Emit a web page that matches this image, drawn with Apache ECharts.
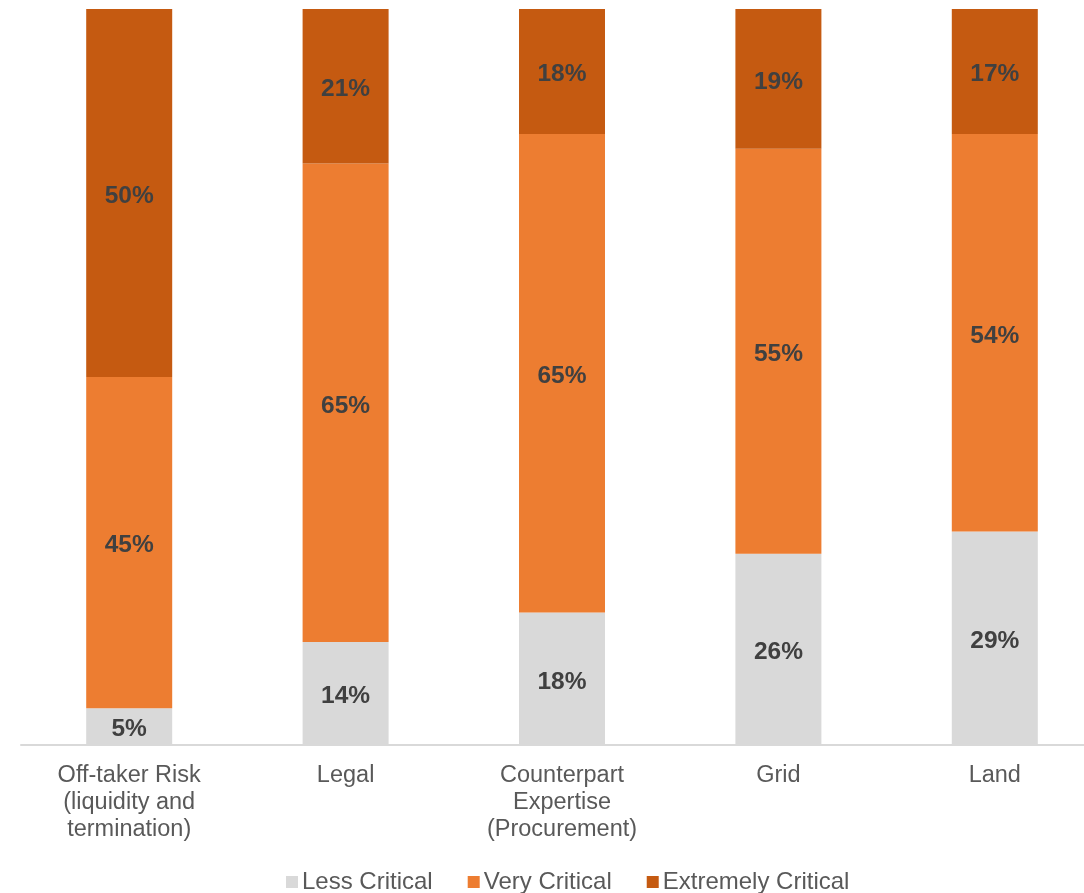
<!DOCTYPE html>
<html><head><meta charset="utf-8">
<script src="https://cdn.jsdelivr.net/npm/echarts@6/dist/echarts.min.js"></script>
<style>html,body{margin:0;padding:0;background:#fff}#c{width:1084px;height:893px}</style>
</head><body><div id="c"></div>
<script>
const categories = ['Off-taker Risk\n(liquidity and\ntermination)', 'Legal', 'Counterpart\nExpertise\n(Procurement)', 'Grid', 'Land'];
const lessCritical = [5, 14, 18, 26, 29];
const veryCritical = [45, 65, 65, 55, 54];
const extremelyCritical = [50, 21, 18, 19, 17];
const seriesNames = ['Less Critical', 'Very Critical', 'Extremely Critical'];
const colors = ['#D9D9D9', '#ED7D31', '#C55A11'];
const FONT = 'Arial, "Liberation Sans", sans-serif';

const chart = echarts.init(document.getElementById('c'), null, {renderer: 'canvas'});
const mk = (name, data, color) => ({
  name, type: 'bar', stack: 'total', data, barWidth: 86, clip: true,
  itemStyle: {color},
  label: {show: true, position: 'inside', offset: [0, 3], formatter: p => p.value + '%',
    color: '#404040', fontWeight: 'bold', fontSize: 24.5, fontFamily: FONT}
});
chart.setOption({
  animation: false,
  textStyle: {fontFamily: FONT},
  grid: {left: 21, top: 9, right: -19, bottom: 148, containLabel: false, outerBoundsMode: 'none'},
  legend: {top: 865, left: 281, itemWidth: 12, itemHeight: 12, itemGap: 35,
    icon: 'rect', textStyle: {color: '#595959', fontSize: 24, fontFamily: FONT, padding: [0, 0, 0, -1]},
    data: seriesNames},
  xAxis: {type: 'category', data: categories,
    axisLine: {lineStyle: {color: '#D9D9D9', width: 2}}, axisTick: {show: false},
    axisLabel: {color: '#595959', fontSize: 23.5, lineHeight: 27, margin: 17, interval: 0, fontFamily: FONT}},
  yAxis: {type: 'value', min: 0, max: 100, show: false, splitLine: {show: false}},
  series: [
    mk(seriesNames[0], lessCritical, colors[0]),
    mk(seriesNames[1], veryCritical, colors[1]),
    mk(seriesNames[2], extremelyCritical, colors[2])
  ]
});
</script></body></html>
